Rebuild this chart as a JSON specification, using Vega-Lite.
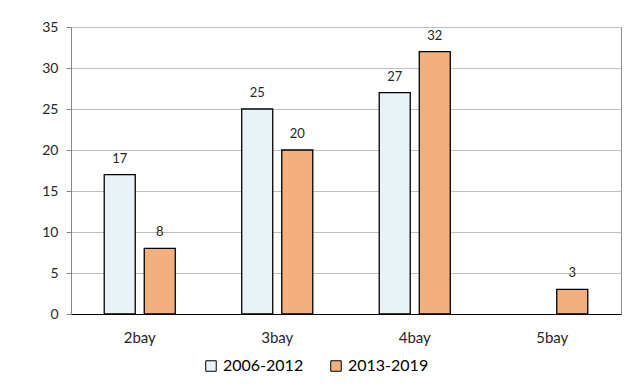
{
  "$schema": "https://vega.github.io/schema/vega-lite/v6.json",
  "width": 550,
  "height": 287,
  "autosize": {"type": "none"},
  "padding": {"left": 71, "top": 27, "right": 16, "bottom": 75},
  "background": "white",
  "config": {
    "font": "Lato",
    "view": {"stroke": "#8c8c8c", "strokeWidth": 1},
    "axis": {"labelFont": "Lato", "labelColor": "#262626"},
    "legend": {"labelFont": "Lato"}
  },
  "data": {
    "values": [
      {"bay": "2bay", "period": "2006-2012", "count": 17},
      {"bay": "2bay", "period": "2013-2019", "count": 8},
      {"bay": "3bay", "period": "2006-2012", "count": 25},
      {"bay": "3bay", "period": "2013-2019", "count": 20},
      {"bay": "4bay", "period": "2006-2012", "count": 27},
      {"bay": "4bay", "period": "2013-2019", "count": 32},
      {"bay": "5bay", "period": "2013-2019", "count": 3}
    ]
  },
  "encoding": {
    "x": {
      "field": "bay", "type": "nominal",
      "scale": {"paddingInner": 0, "paddingOuter": 0},
      "axis": {"title": null, "labelAngle": 0, "labelFontSize": 15, "labelPadding": 16, "ticks": false, "domainColor": "#000000", "domainWidth": 1.2, "grid": false}
    },
    "xOffset": {
      "field": "period", "type": "nominal",
      "scale": {"domain": ["2006-2012", "2013-2019"], "paddingInner": 0.225, "paddingOuter": 0.83}
    },
    "y": {
      "field": "count", "type": "quantitative",
      "scale": {"domain": [0, 35], "nice": false},
      "axis": {"title": null, "values": [0, 5, 10, 15, 20, 25, 30, 35], "labelFontSize": 14, "labelPadding": 8, "tickSize": 5, "tickColor": "#868686", "domainColor": "#868686", "gridColor": "#bfbfbf", "gridWidth": 1}
    }
  },
  "layer": [
    {
      "mark": {"type": "bar", "stroke": "#000000", "strokeWidth": 1.3},
      "encoding": {
        "fill": {
          "field": "period", "type": "nominal",
          "scale": {"domain": ["2006-2012", "2013-2019"], "range": ["#e9f2f7", "#f3b07f"]},
          "legend": {"title": null, "orient": "none", "legendX": 132, "legendY": 331, "direction": "horizontal", "labelFontSize": 16, "symbolType": "square", "symbolSize": 110, "symbolStrokeColor": "#000000", "symbolStrokeWidth": 1, "columnPadding": 24, "labelOffset": 4, "labelColor": "#000000"}
        }
      }
    },
    {
      "mark": {"type": "text", "baseline": "bottom", "dy": -9, "fontSize": 13, "color": "#262626"},
      "encoding": {"text": {"field": "count", "type": "quantitative"}}
    }
  ]
}
